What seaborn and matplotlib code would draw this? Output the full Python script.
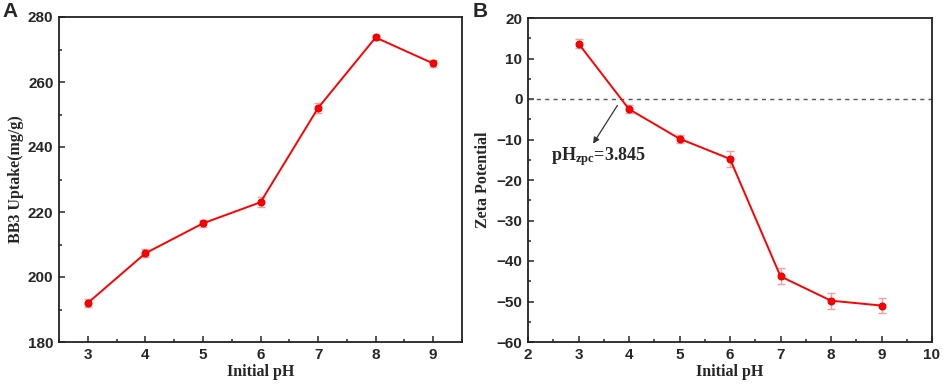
import numpy as np
import pandas as pd
import seaborn as sns
import matplotlib
matplotlib.use("Agg")
import matplotlib.pyplot as plt
from matplotlib.ticker import MultipleLocator

# data
ph = [3, 4, 5, 6, 7, 8, 9]
uptake = [192.0, 207.3, 216.5, 223.0, 252.0, 273.7, 265.7]
uptake_err = [1.2, 1.2, 1.0, 1.5, 1.5, 0.8, 1.0]
zeta = [13.7, -2.5, -9.8, -14.8, -43.8, -49.8, -51.0]
zeta_err = [1.0, 1.0, 1.0, 2.0, 2.0, 2.0, 1.8]

sns.set_style("ticks")
plt.rcParams["font.family"] = ["Liberation Sans", "DejaVu Sans"]
plt.rcParams["mathtext.fontset"] = "custom"
plt.rcParams["mathtext.rm"] = "Liberation Serif:bold"
plt.rcParams["mathtext.bf"] = "Liberation Serif:bold"
plt.rcParams["mathtext.it"] = "Liberation Serif:bold"

fig = plt.figure(figsize=(9.48, 3.88), dpi=100)
axA = fig.add_axes([59 / 948, 1 - 342 / 388, 403 / 948, 325 / 388])
axB = fig.add_axes([528 / 948, 1 - 342 / 388, 404 / 948, 324 / 388])

dfA = pd.DataFrame({"pH": ph, "val": uptake})
dfB = pd.DataFrame({"pH": ph, "val": zeta})

def draw(ax, df, err):
    ax.errorbar(df["pH"], df["val"], yerr=err, fmt="none", ecolor="#f4a0a0",
                elinewidth=1, capsize=3, zorder=2)
    sns.lineplot(data=df, x="pH", y="val", ax=ax, color="red", lw=1.4,
                 marker="o", markersize=5, markeredgecolor="#e00000",
                 markerfacecolor="red", zorder=3)
    for s in ax.spines.values():
        s.set_linewidth(1.3)
        s.set_color("#222222")
    ax.tick_params(which="both", direction="in", top=False, right=False,
                   width=1.1, labelsize=11, pad=4)
    ax.tick_params(which="major", length=4)
    ax.tick_params(which="minor", length=2.5)
    ax.set_xlabel("Initial pH", family="Liberation Serif", fontweight="bold",
                  fontsize=11.5, labelpad=2)

draw(axA, dfA, uptake_err)
axA.set_xlim(2.5, 9.5)
axA.set_ylim(180, 280)
axA.xaxis.set_major_locator(MultipleLocator(1))
axA.xaxis.set_minor_locator(MultipleLocator(0.5))
axA.yaxis.set_major_locator(MultipleLocator(20))
axA.yaxis.set_minor_locator(MultipleLocator(10))
axA.set_ylabel("BB3 Uptake(mg/g)", family="Liberation Serif", fontweight="bold",
               fontsize=11.5, labelpad=3)
for lab in axA.get_xticklabels() + axA.get_yticklabels():
    lab.set_fontweight("bold")

draw(axB, dfB, zeta_err)
axB.set_xlim(2, 10)
axB.set_ylim(-60, 20)
axB.set_xticks(range(2, 11))
axB.xaxis.set_minor_locator(MultipleLocator(0.5))
axB.yaxis.set_major_locator(MultipleLocator(10))
axB.yaxis.set_minor_locator(MultipleLocator(5))
axB.axhline(0, color="#555555", lw=1, ls=(0, (3, 3)), zorder=1)
axB.set_ylabel("Zeta Potential", family="Liberation Serif", fontweight="bold",
               fontsize=11.5, labelpad=4)
for lab in axB.get_xticklabels() + axB.get_yticklabels():
    lab.set_fontweight("bold")
axB.annotate("", xy=(3.26, -11.6), xytext=(3.8, -1.0),
             arrowprops=dict(arrowstyle="-|>", color="#333333", lw=0.9,
                             mutation_scale=9))
axB.text(2.46, -14.2, r"pH$_{\mathrm{zpc}}$=3.845", family="Liberation Serif",
         fontweight="bold", fontsize=13, va="center", ha="left")

fig.text(2 / 948, 1 - 2 / 388, "A", fontsize=15, fontweight="bold", va="top")
fig.text(473 / 948, 1 - 2 / 388, "B", fontsize=15, fontweight="bold", va="top")

fig.savefig("out.png", dpi=100)
